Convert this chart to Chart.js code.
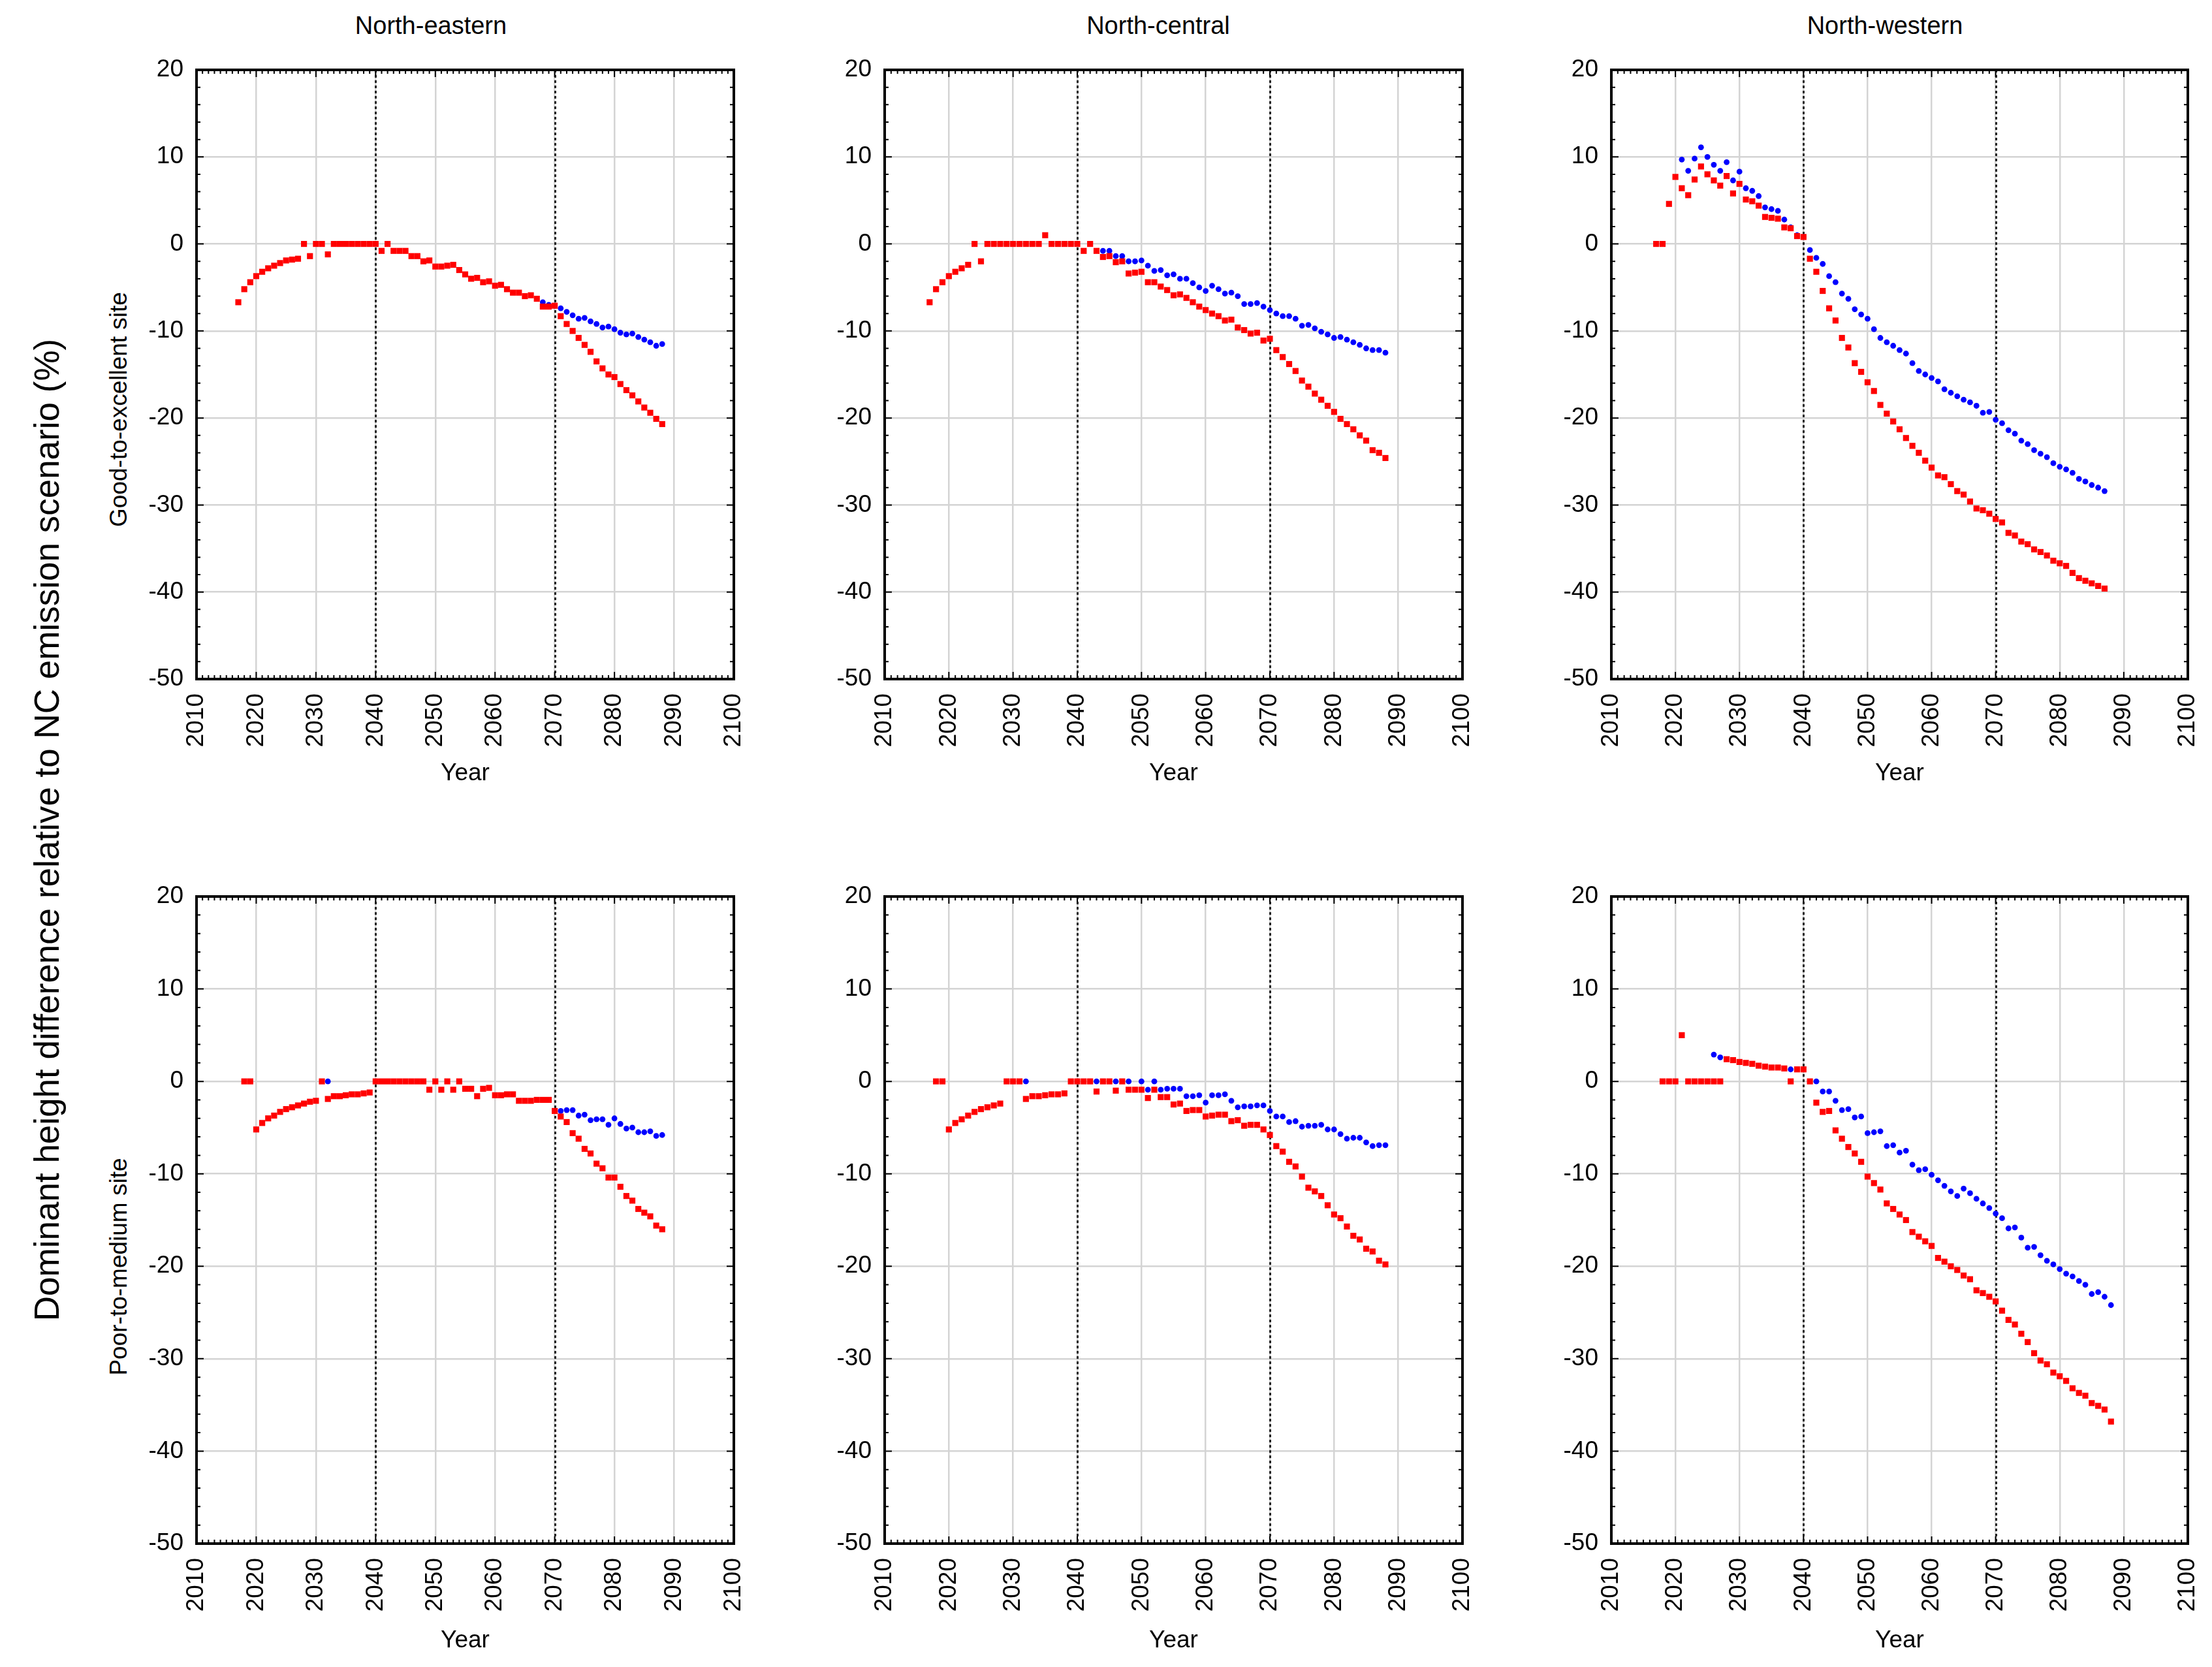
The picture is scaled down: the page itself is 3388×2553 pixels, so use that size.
<!DOCTYPE html>
<html lang="en">
<head>
  <meta charset="UTF-8">
  <title>Dominant height difference relative to NC emission scenario</title>
  <script src="https://cdn.jsdelivr.net/npm/chart.js"></script>
  <style>
    body { margin: 0; background: #fff; width: 3388px; height: 2553px; position: relative; overflow: hidden;
           font-family: "Liberation Sans", Arial, sans-serif; color: #000; }
    canvas { position: absolute; }
    .lbl { position: absolute; white-space: nowrap; transform: translate(-50%, -50%); line-height: 1; }
    .rot { transform: translate(-50%, -50%) rotate(-90deg); }
  </style>
</head>
<body>
  <div class="lbl" style="left:660px; top:39px; font-size:38px">North-eastern</div>
  <div class="lbl" style="left:1774px; top:39px; font-size:38px">North-central</div>
  <div class="lbl" style="left:2887px; top:39px; font-size:38px">North-western</div>
  <div class="lbl rot" style="left:181px; top:627px; font-size:37px">Good-to-excellent site</div>
  <div class="lbl rot" style="left:181px; top:1940px; font-size:37px">Poor-to-medium site</div>
  <div class="lbl rot" style="left:71px; top:1271px; font-size:53px">Dominant height difference relative to NC emission scenario (%)</div>

  <script>
    const n = null;
    const years = [
      2017, 2018, 2019,
      2020, 2021, 2022, 2023, 2024, 2025, 2026, 2027, 2028, 2029,
      2030, 2031, 2032, 2033, 2034, 2035, 2036, 2037, 2038, 2039,
      2040, 2041, 2042, 2043, 2044, 2045, 2046, 2047, 2048, 2049,
      2050, 2051, 2052, 2053, 2054, 2055, 2056, 2057, 2058, 2059,
      2060, 2061, 2062, 2063, 2064, 2065, 2066, 2067, 2068, 2069,
      2070, 2071, 2072, 2073, 2074, 2075, 2076, 2077, 2078, 2079,
      2080, 2081, 2082, 2083, 2084, 2085, 2086, 2087, 2088
    ];
    const xTicks = [2010, 2020, 2030, 2040, 2050, 2060, 2070, 2080, 2090, 2100];
    const yTicks = [-50, -40, -30, -20, -10, 0, 10, 20];
    const periodBreaks = [2040, 2070];
    const regions = ['North-eastern', 'North-central', 'North-western'];
    const sites = ['Good-to-excellent site', 'Poor-to-medium site'];

    // red squares
    const neGoodRed = [
      -6.7, -5.2, -4.4,
      -3.7, -3.2, -2.8, -2.5, -2.2, -1.9, -1.8, -1.7, 0, -1.4,
      0, 0, -1.2, 0, 0, 0, 0, 0, 0, 0,
      0, -0.8, 0, -0.8, -0.8, -0.8, -1.4, -1.4, -2.0, -1.9,
      -2.6, -2.6, -2.5, -2.4, -3.0, -3.5, -4.0, -3.9, -4.4, -4.3,
      -4.8, -4.7, -5.2, -5.6, -5.6, -6.0, -5.9, -6.3, -7.2, -7.2,
      -7.1, -8.3, -9.2, -10.0, -10.8, -11.6, -12.4, -13.5, -14.3, -15.0,
      -15.3, -16.1, -16.8, -17.4, -18.1, -18.8, -19.4, -20.1, -20.7
    ];
    const ncGoodRed = [
      -6.7, -5.2, -4.4,
      -3.7, -3.2, -2.8, -2.4, 0, -2.0, 0, 0, 0, 0,
      0, 0, 0, 0, 0, 1.0, 0, 0, 0, 0,
      0, -0.8, 0, -0.8, -1.5, -1.4, -2.1, -2.0, -3.4, -3.3,
      -3.2, -4.4, -4.4, -4.9, -5.3, -5.9, -5.8, -6.2, -6.7, -7.2,
      -7.6, -8.0, -8.3, -8.8, -8.7, -9.6, -9.9, -10.3, -10.2, -11.1,
      -10.9, -12.2, -13.0, -13.8, -14.6, -15.7, -16.4, -17.2, -17.9, -18.6,
      -19.3, -20.1, -20.7, -21.3, -22.0, -22.6, -23.7, -24.0, -24.6
    ];
    const nwGoodRed = [
      0, 0, 4.6,
      7.7, 6.4, 5.6, 7.4, 8.9, 8.0, 7.3, 6.7, 7.8, 5.8,
      6.9, 5.1, 4.9, 4.4, 3.1, 3.0, 2.9, 1.9, 1.8, 0.9,
      0.8, -1.7, -3.2, -5.4, -7.4, -8.8, -10.8, -11.9, -13.7, -14.7,
      -15.9, -16.9, -18.5, -19.5, -20.4, -21.3, -22.3, -23.2, -24.0, -24.9,
      -25.7, -26.6, -26.8, -27.6, -28.4, -28.8, -29.6, -30.4, -30.6, -31.0,
      -31.6, -32.0, -33.2, -33.5, -34.2, -34.5, -35.1, -35.4, -35.8, -36.4,
      -36.7, -37.0, -37.8, -38.4, -38.7, -39.0, -39.3, -39.6, n
    ];
    const nePoorRed = [
      n, 0, 0,
      -5.2, -4.5, -4.0, -3.7, -3.3, -3.0, -2.8, -2.6, -2.4, -2.2,
      -2.1, 0, -1.9, -1.6, -1.6, -1.5, -1.4, -1.4, -1.3, -1.2,
      0, 0, 0, 0, 0, 0, 0, 0, 0, -0.9,
      0, -0.9, 0, -0.9, 0, -0.8, -0.8, -1.6, -0.8, -0.7,
      -1.5, -1.5, -1.4, -1.4, -2.1, -2.1, -2.1, -2.0, -2.0, -2.0,
      -3.2, -3.8, -4.4, -5.6, -6.2, -7.3, -7.8, -8.9, -9.4, -10.4,
      -10.4, -11.4, -12.4, -12.9, -13.8, -14.2, -14.6, -15.6, -16.0
    ];
    const ncPoorRed = [
      n, 0, 0,
      -5.2, -4.5, -4.1, -3.7, -3.3, -3.0, -2.8, -2.6, -2.4, 0,
      0, 0, -1.9, -1.6, -1.6, -1.5, -1.4, -1.4, -1.3, 0,
      0, 0, 0, -1.1, 0, 0, -1.0, 0, -0.9, -0.9,
      -0.9, -1.8, -0.9, -1.7, -1.7, -2.5, -2.4, -3.2, -3.1, -3.1,
      -3.8, -3.7, -3.6, -3.6, -4.3, -4.2, -4.8, -4.7, -4.7, -5.2,
      -5.8, -7.0, -7.6, -8.7, -9.2, -10.3, -11.5, -11.9, -12.4, -13.4,
      -14.4, -14.8, -15.7, -16.7, -17.1, -18.1, -18.4, -19.4, -19.8
    ];
    const nwPoorRed = [
      n, 0, 0,
      0, 5.0, 0, 0, 0, 0, 0, 0, 2.4, 2.3,
      2.1, 2.0, 1.9, 1.7, 1.6, 1.5, 1.5, 1.4, 0, 1.3,
      1.3, 0, -2.3, -3.3, -3.2, -5.3, -6.2, -7.1, -7.8, -8.7,
      -10.3, -11.0, -11.7, -13.2, -13.8, -14.4, -15.0, -16.3, -16.8, -17.3,
      -17.8, -19.1, -19.5, -20.0, -20.4, -21.0, -21.4, -22.6, -22.9, -23.3,
      -23.8, -24.8, -25.8, -26.3, -27.3, -28.2, -29.4, -30.2, -30.6, -31.5,
      -31.9, -32.4, -33.2, -33.7, -34.0, -34.8, -35.1, -35.5, -36.8
    ];

    // blue dots (null where hidden under the red squares)
    const neGoodBlue = [
      n, n, n,
      n, n, n, n, n, n, n, n, n, n,
      n, n, n, n, n, n, n, n, n, n,
      n, n, n, n, n, n, n, n, n, n,
      n, n, n, n, n, n, n, n, n, n,
      n, n, n, n, n, n, n, n, -6.7, -7.0,
      -7.1, -7.4, -7.8, -8.2, -8.6, -8.5, -8.9, -9.2, -9.6, -9.5,
      -9.8, -10.2, -10.4, -10.3, -10.7, -11.0, -11.3, -11.7, -11.5
    ];
    const ncGoodBlue = [
      n, n, n,
      n, n, n, n, n, n, n, n, n, n,
      n, n, n, n, n, n, n, n, n, n,
      n, n, n, n, -0.8, -0.8, -1.4, -1.4, -2.0, -2.0,
      -1.9, -2.5, -3.1, -3.0, -3.6, -3.5, -4.0, -4.0, -4.5, -5.0,
      -5.4, -4.8, -5.2, -5.7, -5.6, -6.0, -6.9, -6.9, -6.8, -7.2,
      -7.6, -8.0, -8.3, -8.3, -8.6, -9.4, -9.3, -9.7, -10.1, -10.4,
      -10.8, -10.7, -11.0, -11.3, -11.6, -12.0, -12.2, -12.2, -12.5
    ];
    const nwGoodBlue = [
      n, n, n,
      n, 9.7, 8.4, 9.8, 11.1, 10.0, 9.1, 8.4, 9.4, 7.3,
      8.3, 6.4, 6.1, 5.5, 4.2, 4.0, 3.8, 2.8, 1.9, 1.0,
      0.8, -0.7, -1.6, -2.3, -3.7, -4.4, -5.7, -6.3, -7.5, -8.1,
      -8.6, -9.8, -10.8, -11.3, -11.7, -12.2, -12.6, -13.7, -14.6, -15.0,
      -15.4, -15.8, -16.7, -17.1, -17.5, -17.9, -18.2, -18.6, -19.4, -19.3,
      -20.2, -20.6, -21.4, -21.8, -22.6, -23.0, -23.7, -24.1, -24.5, -25.2,
      -25.6, -25.9, -26.3, -27.0, -27.3, -27.7, -28.0, -28.4, n
    ];
    const nePoorBlue = [
      n, n, n,
      n, n, n, n, n, n, n, n, n, n,
      n, n, 0, n, n, n, n, n, n, n,
      n, n, n, n, n, n, n, n, n, n,
      n, n, n, n, n, n, n, n, n, n,
      n, n, n, n, n, n, n, n, n, n,
      -3.2, -3.2, -3.1, -3.1, -3.7, -3.6, -4.2, -4.1, -4.1, -4.7,
      -4.0, -4.6, -5.1, -5.0, -5.5, -5.5, -5.4, -5.9, -5.8
    ];
    const ncPoorBlue = [
      n, n, n,
      n, n, n, n, n, n, n, n, n, n,
      n, n, 0, n, n, n, n, n, n, n,
      n, n, n, 0, n, n, 0, n, 0, n,
      0, -0.9, 0, -0.9, -0.8, -0.8, -0.8, -1.6, -1.6, -1.5,
      -2.3, -1.5, -1.5, -1.4, -2.1, -2.8, -2.7, -2.7, -2.6, -2.6,
      -3.2, -3.8, -3.8, -4.4, -4.3, -4.9, -4.8, -4.8, -4.7, -5.2,
      -5.2, -5.7, -6.2, -6.1, -6.1, -6.6, -7.0, -6.9, -6.9
    ];
    const nwPoorBlue = [
      n, n, n,
      n, n, n, n, n, n, 2.9, 2.6, n, n,
      n, n, n, n, n, n, n, n, 1.3, n,
      n, n, 0, -1.1, -1.1, -2.1, -3.1, -3.0, -3.9, -3.8,
      -5.6, -5.5, -5.4, -7.0, -6.9, -7.7, -7.5, -9.0, -9.6, -9.5,
      -10.1, -10.7, -11.3, -11.9, -12.4, -11.6, -12.1, -12.7, -13.2, -13.7,
      -14.3, -14.8, -15.9, -15.8, -16.9, -18.0, -17.9, -18.8, -19.4, -19.8,
      -20.3, -20.8, -21.1, -21.6, -22.0, -23.0, -22.8, -23.3, -24.2
    ];

    const redSeries = [[neGoodRed, ncGoodRed, nwGoodRed], [nePoorRed, ncPoorRed, nwPoorRed]];
    const blueSeries = [[neGoodBlue, ncGoodBlue, nwGoodBlue], [nePoorBlue, ncPoorBlue, nwPoorBlue]];

    // plot-area geometry in page pixels
    const cols = [{ left: 301, width: 823 }, { left: 1355, width: 885 }, { left: 2468, width: 883 }];
    const rows = [{ top: 107, height: 933, yearGap: 145 }, { top: 1373, height: 991, yearGap: 149 }];
    const YW = 150, PT = 30, PR = 30, XH = 200, FS = 37;

    Chart.defaults.font.family = '"Liberation Sans", Arial, sans-serif';
    Chart.defaults.color = '#000';

    const boxPlugin = {
      id: 'box',
      beforeDatasetsDraw(chart) {
        const { ctx, chartArea: a, scales: { x } } = chart;
        ctx.save();
        ctx.strokeStyle = '#222';
        ctx.lineWidth = 3;
        ctx.setLineDash([4, 4]);
        periodBreaks.forEach(v => {
          const px = Math.round(x.getPixelForValue(v)) + 0.5;
          ctx.beginPath();
          ctx.moveTo(px, a.top);
          ctx.lineTo(px, a.bottom);
          ctx.stroke();
        });
        ctx.restore();
      },
      afterDraw(chart) {
        const { ctx, chartArea: a, scales: { x, y } } = chart;
        ctx.save();
        ctx.strokeStyle = '#000';
        ctx.lineWidth = 2;
        ctx.beginPath();
        for (let v = x.min; v <= x.max; v++) {
          const px = x.getPixelForValue(v);
          const len = v % 10 === 0 ? 11 : 6;
          ctx.moveTo(px, a.top); ctx.lineTo(px, a.top + len);
          ctx.moveTo(px, a.bottom); ctx.lineTo(px, a.bottom - len);
        }
        for (let v = y.min; v <= y.max; v += 2) {
          const py = y.getPixelForValue(v);
          const len = v % 10 === 0 ? 11 : 6;
          ctx.moveTo(a.left, py); ctx.lineTo(a.left + len, py);
          ctx.moveTo(a.right, py); ctx.lineTo(a.right - len, py);
        }
        ctx.stroke();
        ctx.lineWidth = 4;
        ctx.strokeRect(a.left, a.top, a.right - a.left, a.bottom - a.top);
        ctx.restore();
      }
    };

    function points(vals) {
      return years.map((yr, i) => ({ x: yr, y: vals[i] })).filter(p => p.y !== null);
    }

    rows.forEach((row, r) => {
      cols.forEach((col, c) => {
        const cv = document.createElement('canvas');
        const w = col.width + YW + PR, h = row.height + PT + XH;
        cv.width = w; cv.height = h;
        cv.style.left = (col.left - YW) + 'px';
        cv.style.top = (row.top - PT) + 'px';
        cv.style.width = w + 'px'; cv.style.height = h + 'px';
        cv.setAttribute('aria-label', regions[c] + ', ' + sites[r]);
        document.body.appendChild(cv);

        new Chart(cv.getContext('2d'), {
          type: 'scatter',
          data: {
            datasets: [{
              label: 'Red',
              data: points(redSeries[r][c]),
              pointStyle: 'rect',
              pointRadius: 6.5,
              pointBorderWidth: 0,
              backgroundColor: '#ff0000',
              borderColor: '#ff0000'
            }, {
              label: 'Blue',
              data: points(blueSeries[r][c]),
              pointStyle: 'circle',
              pointRadius: 4.4,
              pointBorderWidth: 0,
              backgroundColor: '#0000ff',
              borderColor: '#0000ff'
            }]
          },
          options: {
            responsive: false,
            animation: false,
            devicePixelRatio: 1,
            layout: { padding: { left: 0, top: PT, right: PR, bottom: 0 } },
            plugins: { legend: { display: false }, tooltip: { enabled: false } },
            scales: {
              x: {
                type: 'linear',
                min: xTicks[0],
                max: xTicks[xTicks.length - 1],
                afterBuildTicks: s => { s.ticks = xTicks.map(v => ({ value: v })); },
                afterFit: s => { s.height = XH; s.paddingLeft = 0; s.paddingRight = 0; },
                ticks: { autoSkip: false, maxRotation: 90, minRotation: 90, padding: 22,
                         font: { size: FS }, color: '#000', callback: v => String(v) },
                grid: { color: '#d4d4d4', lineWidth: 2.5, drawTicks: false },
                border: { display: false },
                title: { display: true, text: 'Year', font: { size: FS }, color: '#000',
                         padding: { top: 0, bottom: XH - row.yearGap - FS * 0.6 } }
              },
              y: {
                min: yTicks[0],
                max: yTicks[yTicks.length - 1],
                afterBuildTicks: s => { s.ticks = yTicks.map(v => ({ value: v })); },
                afterFit: s => { s.width = YW; s.paddingTop = 0; s.paddingBottom = 0; },
                ticks: { padding: 20, font: { size: FS }, color: '#000', callback: v => String(v) },
                grid: { color: '#d4d4d4', lineWidth: 2.5, drawTicks: false },
                border: { display: false }
              }
            }
          },
          plugins: [boxPlugin]
        });
      });
    });
  </script>
</body>
</html>
